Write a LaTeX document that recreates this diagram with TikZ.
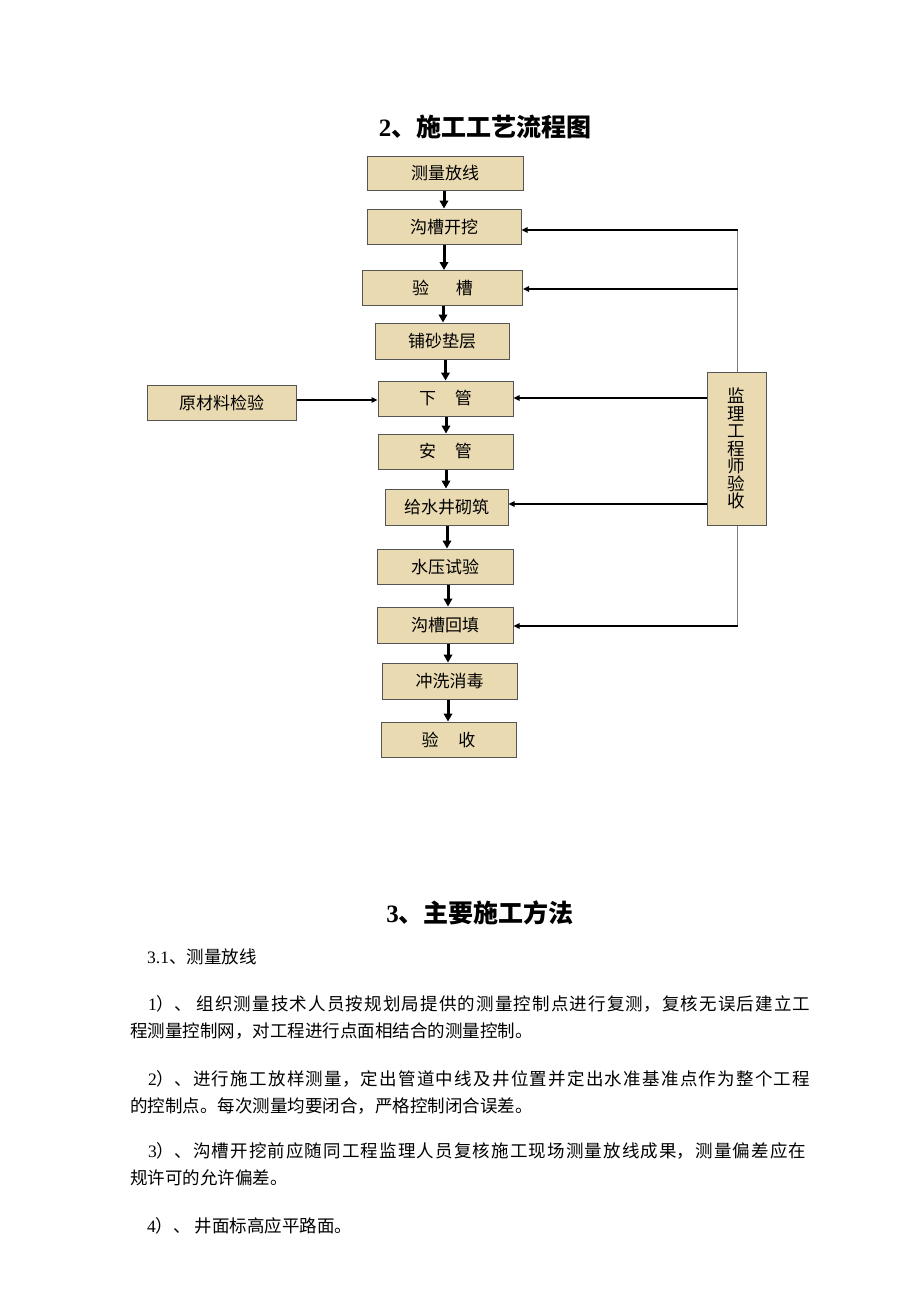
\documentclass[tikz,border=0pt]{standalone}
\usepackage{fontspec}
\setmainfont{Noto Sans CJK SC}
\newfontfamily\cjk{Noto Sans CJK SC}
\newfontfamily\tms{Liberation Serif}
\usetikzlibrary{arrows.meta}
\definecolor{boxfill}{RGB}{233,218,178}
\definecolor{boxdraw}{RGB}{85,85,85}
\definecolor{fbline}{RGB}{125,125,125}
\newcommand{\bodyfont}{\cjk\fontsize{17.5}{27}\selectfont\XeTeXlinebreaklocale "zh"\XeTeXlinebreakskip=0pt plus 3pt\relax}
\begin{document}
\begin{tikzpicture}[x=1pt,y=-1pt,
  flowbox/.style={draw=boxdraw, line width=1pt, fill=boxfill, inner sep=0pt,
    font=\cjk\fontsize{17}{18}\selectfont, text=black},
  downarr/.style={line width=3pt, -{Triangle[length=8pt,width=8.5pt]}},
  sidearr/.style={line width=2pt, -{Triangle[length=6pt,width=5.5pt]}},
  fb/.style={draw=fbline, line width=1pt},
  para/.style={anchor=base west, inner sep=0pt}]
\useasboundingbox[fill=white] (0,0) rectangle (920,1302);

% title
\node[font=\fontsize{25}{30}\selectfont\bfseries] (t1) at (485,127) {{\tms 2}、施工工艺流程图};

% feedback line (behind box)
\draw[fb] (737.5,230) -- (737.5,626);

% flow boxes
\node[flowbox, minimum width=156pt, minimum height=34pt] (n1) at (445,173) {测量放线};
\node[flowbox, minimum width=154pt, minimum height=35pt] (n2) at (444,226.5) {沟槽开挖};
\node[flowbox, minimum width=160pt, minimum height=35pt] (n3) at (442.5,288) {验\hspace{27pt}槽};
\node[flowbox, minimum width=134pt, minimum height=36pt] (n4) at (442,341) {铺砂垫层};
\node[flowbox, minimum width=135pt, minimum height=35pt] (n5) at (445.5,398.5) {下\hspace{19pt}管};
\node[flowbox, minimum width=149pt, minimum height=35pt] (n0) at (221.5,403) {原材料检验};
\node[flowbox, minimum width=135pt, minimum height=35pt] (n6) at (445.5,451.5) {安\hspace{19pt}管};
\node[flowbox, minimum width=123pt, minimum height=36pt] (n7) at (446.5,507) {给水井砌筑};
\node[flowbox, minimum width=136pt, minimum height=35pt] (n8) at (445,566.5) {水压试验};
\node[flowbox, minimum width=136pt, minimum height=36pt] (n9) at (445,625) {沟槽回填};
\node[flowbox, minimum width=135pt, minimum height=36pt] (n10) at (449.5,681) {冲洗消毒};
\node[flowbox, minimum width=135pt, minimum height=35pt] (n11) at (448.5,739.5) {验\hspace{20pt}收};
\node[flowbox, minimum width=59pt, minimum height=153pt, align=center,
  font=\cjk\fontsize{17.5}{17.5}\selectfont] (jl) at (736.5,448.5) {监\\理\\工\\程\\师\\验\\收};

% downward arrows
\draw[downarr] (444,0 |- n1.south) -- (444,0 |- n2.north);
\draw[downarr] (444,0 |- n2.south) -- (444,0 |- n3.north);
\draw[downarr] (443,0 |- n3.south) -- (443,0 |- n4.north);
\draw[downarr] (445.5,0 |- n4.south) -- (445.5,0 |- n5.north);
\draw[downarr] (446,0 |- n5.south) -- (446,0 |- n6.north);
\draw[downarr] (446,0 |- n6.south) -- (446,0 |- n7.north);
\draw[downarr] (447,0 |- n7.south) -- (447,0 |- n8.north);
\draw[downarr] (448,0 |- n8.south) -- (448,0 |- n9.north);
\draw[downarr] (448,0 |- n9.south) -- (448,0 |- n10.north);
\draw[downarr] (448,0 |- n10.south) -- (448,0 |- n11.north);

% side arrows
\draw[sidearr] (n0.east |- 0,400) -- (n5.west |- 0,400);
\draw[sidearr] (737.5,230) -- (n2.east |- 0,230);
\draw[sidearr] (737.5,289) -- (n3.east |- 0,289);
\draw[sidearr] (jl.west |- 0,398) -- (n5.east |- 0,398);
\draw[sidearr] (jl.west |- 0,504) -- (n7.east |- 0,504);
\draw[sidearr] (737.5,626) -- (n9.east |- 0,626);

% section text
\node[font=\fontsize{25}{30}\selectfont\bfseries] (t2) at (480,913) {{\tms 3}、主要施工方法};
\node[para] (s31) at (147,963) {\bodyfont{\tms 3.1}、测量放线};
\node[para] (p1) at (130,1010) {\parbox[t]{680pt}{\bodyfont\hspace*{18pt}{\tms 1}）、 组织测量技术人员按规划局提供的测量控制点进行复测，复核无误后建立工\linebreak 程测量控制网，对工程进行点面相结合的测量控制。}};
\node[para] (p2) at (130,1085) {\parbox[t]{680pt}{\bodyfont\hspace*{18pt}{\tms 2}）、进行施工放样测量，定出管道中线及井位置并定出水准基准点作为整个工程\linebreak 的控制点。每次测量均要闭合，严格控制闭合误差。}};
\node[para] (p3) at (130,1157) {\parbox[t]{676pt}{\bodyfont\hspace*{18pt}{\tms 3}）、沟槽开挖前应随同工程监理人员复核施工现场测量放线成果，测量偏差应在\linebreak 规许可的允许偏差。}};
\node[para] (p4) at (147,1232) {\bodyfont{\tms 4}）、 井面标高应平路面。};
\end{tikzpicture}
\end{document}
